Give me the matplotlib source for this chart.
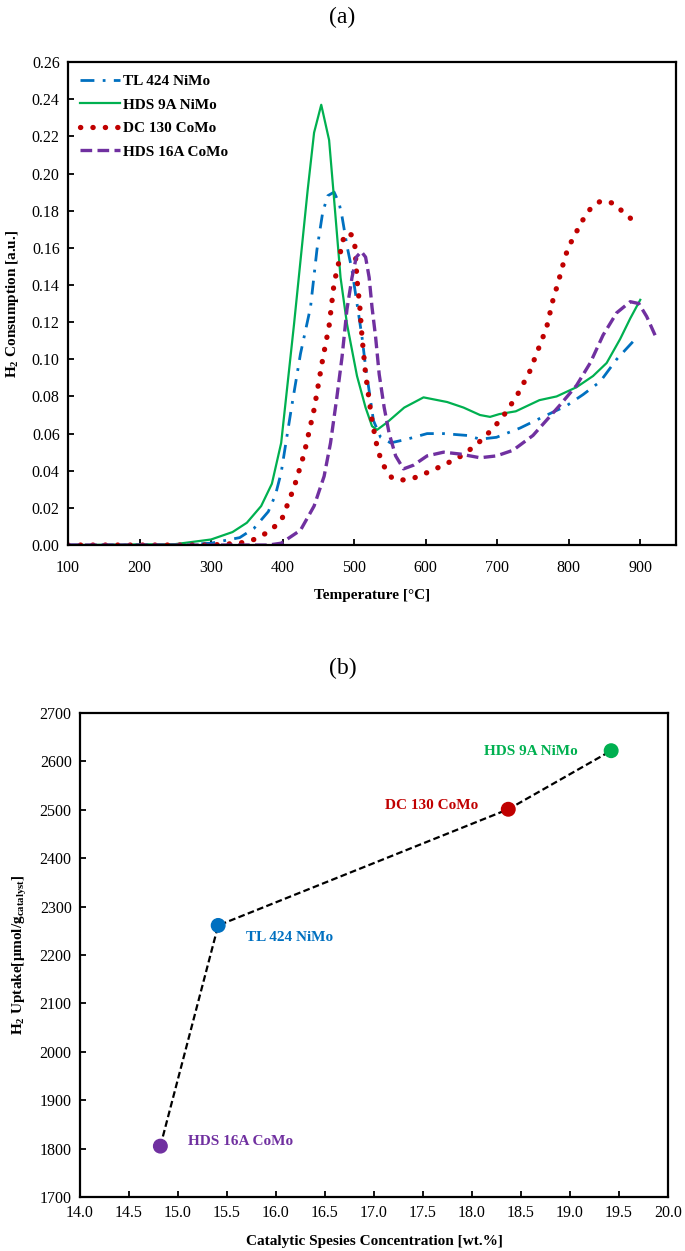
import numpy as np
import matplotlib
matplotlib.use('Agg')
import matplotlib.pyplot as plt

plt.rcParams['font.family'] = ['Liberation Serif', 'DejaVu Serif']
plt.rcParams['mathtext.fontset'] = 'custom'
plt.rcParams['mathtext.rm'] = 'Liberation Serif'
plt.rcParams['mathtext.bf'] = 'Liberation Serif:bold'
plt.rcParams['mathtext.it'] = 'Liberation Serif:italic'

# ---- (a) TPR curves ----
t_blue = [100, 250, 300, 340, 360, 380, 390, 398, 412, 425, 439, 448, 456, 463, 472, 479, 483,
          490, 497, 504, 511, 516, 521, 527, 537, 551, 574, 602, 625, 658, 676, 699, 732, 764,
          797, 820, 844, 867, 891]
h_blue = [0.0, 0.0, 0.001, 0.004, 0.009, 0.018, 0.027, 0.039, 0.073, 0.103, 0.128, 0.159, 0.179,
          0.188, 0.190, 0.184, 0.177, 0.161, 0.148, 0.130, 0.112, 0.096, 0.083, 0.067, 0.058,
          0.055, 0.057, 0.060, 0.060, 0.059, 0.057, 0.058, 0.063, 0.069, 0.075, 0.081, 0.088,
          0.100, 0.110]

t_green = [100, 250, 300, 330, 350, 370, 385, 398, 416, 435, 444, 454, 465, 472, 481, 490, 504,
           516, 525, 532, 546, 570, 597, 630, 653, 676, 690, 703, 726, 759, 783, 811, 834, 853,
           872, 886, 900]
h_green = [0.0, 0.0005, 0.003, 0.007, 0.012, 0.021, 0.033, 0.055, 0.119, 0.191, 0.222, 0.237,
           0.218, 0.186, 0.144, 0.119, 0.091, 0.074, 0.064, 0.062, 0.066, 0.074, 0.0795, 0.077,
           0.074, 0.070, 0.069, 0.0705, 0.072, 0.078, 0.080, 0.085, 0.091, 0.098, 0.111, 0.122,
           0.132]

t_red = [100, 300, 340, 360, 380, 398, 416, 430, 444, 456, 465, 472, 479, 483, 489, 496, 501,
         504, 508, 511, 516, 521, 525, 532, 539, 553, 567, 583, 602, 625, 650, 671, 687, 706,
         727, 745, 759, 769, 778, 785, 792, 799, 806, 818, 832, 844, 855, 867, 876, 886, 895]
h_red = [0.0, 0.0, 0.001, 0.003, 0.007, 0.013, 0.031, 0.049, 0.073, 0.100, 0.118, 0.141, 0.153,
         0.163, 0.168, 0.167, 0.161, 0.143, 0.128, 0.112, 0.092, 0.078, 0.067, 0.053, 0.044,
         0.036, 0.035, 0.036, 0.039, 0.043, 0.048, 0.054, 0.060, 0.068, 0.080, 0.093, 0.107,
         0.117, 0.132, 0.141, 0.151, 0.160, 0.165, 0.174, 0.182, 0.185, 0.185, 0.183, 0.179,
         0.176, 0.172]

t_purple = [100, 380, 398, 425, 444, 458, 467, 476, 483, 490, 497, 503, 510, 516, 521, 525, 530,
            535, 542, 549, 558, 569, 583, 602, 625, 648, 676, 699, 722, 750, 787, 811, 830, 848,
            867, 886, 898, 909, 923]
h_purple = [0.0, 0.0, 0.001, 0.008, 0.021, 0.037, 0.055, 0.080, 0.101, 0.127, 0.144, 0.155,
            0.158, 0.155, 0.144, 0.128, 0.112, 0.092, 0.074, 0.060, 0.048, 0.041, 0.043, 0.048,
            0.050, 0.049, 0.047, 0.048, 0.051, 0.059, 0.075, 0.086, 0.098, 0.113, 0.125, 0.131,
            0.130, 0.123, 0.111]

# ---- (b) uptake vs concentration ----
names = ['HDS 16A CoMo', 'TL 424 NiMo', 'DC 130 CoMo', 'HDS 9A NiMo']
conc = [14.82, 15.41, 18.37, 19.42]
uptake = [1805, 2261, 2501, 2622]
colors = ['#7030A0', '#0070C0', '#C00000', '#00B050']

fig = plt.figure(figsize=(6.85, 12.51), dpi=100)

ax1 = fig.add_axes([0.0993, 0.5643, 0.8876, 0.3861])
ax1.plot(t_blue, h_blue, color='#0070C0', lw=2.0, linestyle=(0, (5, 3, 1, 3)), label='TL 424 NiMo')
ax1.plot(t_green, h_green, color='#00B050', lw=1.6, label='HDS 9A NiMo')
ax1.plot(t_red, h_red, color='#C00000', lw=3.8, linestyle=(0, (0.05, 2.3)),
         dash_capstyle='round', label='DC 130 CoMo')
ax1.plot(t_purple, h_purple, color='#7030A0', lw=2.4, linestyle=(0, (3.5, 1.6)), label='HDS 16A CoMo')
ax1.set_xlim(100, 950)
ax1.set_ylim(0, 0.26)
ax1.set_xticks(np.arange(100, 1000, 100))
ax1.set_yticks(np.arange(0, 0.261, 0.02))
ax1.set_yticklabels(['%.2f' % v for v in np.arange(0, 0.261, 0.02)])
ax1.set_xlabel('Temperature [°C]', fontsize=11, fontweight='bold', labelpad=9)
ax1.set_ylabel(r'$\mathbf{H_2}$ Consumption [a.u.]', fontsize=11, fontweight='bold', labelpad=8)
leg = ax1.legend(loc='upper left', frameon=False, prop={'weight': 'bold', 'size': 11},
                 handlelength=2.6, handletextpad=0.2, labelspacing=0.65,
                 borderaxespad=0.4)

ax2 = fig.add_axes([0.1168, 0.0432, 0.8584, 0.3869])
ax2.plot(conc, uptake, color='black', lw=1.6, linestyle=(0, (3, 1.5)), zorder=2)
ax2.scatter(conc, uptake, c=colors, s=95, zorder=3)
ax2.text(19.08, 2621, names[3], color=colors[3], fontsize=11, fontweight='bold', ha='right', va='center')
ax2.text(18.06, 2508, names[2], color=colors[2], fontsize=11, fontweight='bold', ha='right', va='center')
ax2.text(15.69, 2237, names[1], color=colors[1], fontsize=11, fontweight='bold', ha='left', va='center')
ax2.text(15.10, 1815, names[0], color=colors[0], fontsize=11, fontweight='bold', ha='left', va='center')
ax2.set_xlim(14, 20)
ax2.set_ylim(1700, 2700)
ax2.set_xticks(np.arange(14, 20.01, 0.5))
ax2.set_xticklabels(['%.1f' % v for v in np.arange(14, 20.01, 0.5)])
ax2.set_yticks(np.arange(1700, 2701, 100))
ax2.set_xlabel('Catalytic Spesies Concentration [wt.%]', fontsize=11, fontweight='bold', labelpad=10)
ax2.set_ylabel(r'$\mathbf{H_2}$ Uptake[μmol/g$_\mathbf{catalyst}$]', fontsize=11, fontweight='bold', labelpad=8)

for ax in (ax1, ax2):
    for s in ax.spines.values():
        s.set_linewidth(1.6)
    ax.tick_params(direction='in', length=4, width=1.3, labelsize=11.5, pad=6)
ax1.tick_params(axis='x', pad=11)

fig.text(0.5, 1 - 17 / 1251, '(a)', fontsize=17, ha='center', va='center')
fig.text(0.5, 1 - 668 / 1251, '(b)', fontsize=17, ha='center', va='center')

plt.savefig('out.png', dpi=100)
